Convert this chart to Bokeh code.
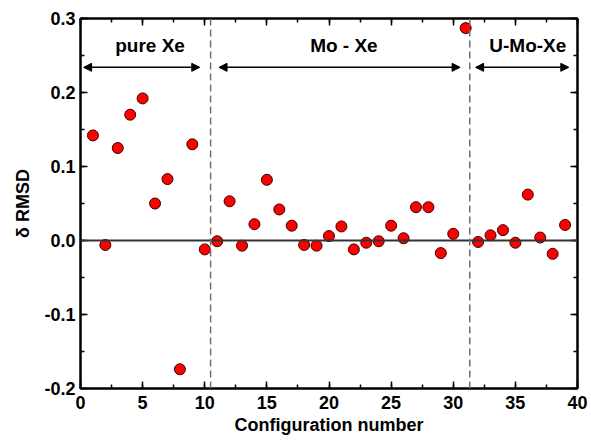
from bokeh.plotting import figure
from bokeh.models import (LinearAxis, Range1d, Span, Arrow, NormalHead, Label, FixedTicker,
                          PrintfTickFormatter, CustomJSTickFormatter)
from bokeh.embed import file_html
from bokeh.resources import INLINE

config = list(range(1, 40))
delta_rmsd = [0.142, -0.006, 0.125, 0.170, 0.192, 0.050, 0.083, -0.174, 0.130, -0.012,
              -0.001, 0.053, -0.007, 0.022, 0.082, 0.042, 0.020, -0.006, -0.007, 0.006,
              0.019, -0.012, -0.003, -0.001, 0.020, 0.003, 0.045, 0.045, -0.017, 0.009,
              0.287, -0.002, 0.007, 0.014, -0.003, 0.062, 0.004, -0.018, 0.021]
group_names = ["pure Xe", "Mo - Xe", "U-Mo-Xe"]
group_starts = [0.25, 11.15, 31.8]
group_ends = [9.6, 30.55, 39.3]
group_label_x = [5.6, 21.2, 36.0]
boundaries = [10.47, 31.33]

FONT = "Liberation Sans"

p = figure(width=591, height=440, output_backend="svg", toolbar_location=None,
           x_range=Range1d(0, 40), y_range=Range1d(-0.2, 0.3),
           min_border_left=80, min_border_right=14, min_border_top=18, min_border_bottom=52)
p.grid.visible = False
p.outline_line_color = "black"
p.outline_line_width = 2
p.background_fill_color = "white"
p.border_fill_color = "white"

def style_axis(ax, show_labels=True):
    ax.axis_line_width = 2
    ax.axis_line_color = "black"
    ax.major_tick_in = 7
    ax.major_tick_out = 0
    ax.minor_tick_in = 4
    ax.minor_tick_out = 0
    ax.major_tick_line_width = 1.5
    ax.minor_tick_line_width = 1.5
    ax.major_label_text_font = FONT
    ax.major_label_text_font_style = "bold"
    ax.major_label_text_font_size = "18px"
    ax.major_label_text_color = "black"
    ax.axis_label_text_font = FONT
    ax.axis_label_text_font_style = "bold"
    ax.axis_label_text_font_size = "18px"
    ax.axis_label_text_color = "black"
    if not show_labels:
        ax.formatter = CustomJSTickFormatter(code="return '';")
        ax.major_label_standoff = 0

xt = FixedTicker(ticks=[0, 5, 10, 15, 20, 25, 30, 35, 40],
                 minor_ticks=[i * 2.5 for i in range(17)])
yt = FixedTicker(ticks=[-0.2, -0.1, 0.0, 0.1, 0.2, 0.3],
                 minor_ticks=[-0.2 + i * 0.05 for i in range(11)])

p.xaxis.ticker = xt
p.yaxis.ticker = yt
style_axis(p.xaxis[0])
style_axis(p.yaxis[0])
p.yaxis.formatter = PrintfTickFormatter(format="%.1f")
p.xaxis.formatter = PrintfTickFormatter(format="%d")
p.xaxis.axis_label = "Configuration number"
p.yaxis.axis_label = "δ RMSD"
p.yaxis.major_label_standoff = 5
p.xaxis.major_label_standoff = 7
p.xaxis.axis_label_standoff = 3
p.yaxis.axis_label_standoff = 8

top = LinearAxis(ticker=xt)
style_axis(top, False)
p.add_layout(top, "above")
right = LinearAxis(ticker=yt)
style_axis(right, False)
p.add_layout(right, "right")

p.add_layout(Span(location=0, dimension="width", line_color="#333333", line_width=1.8))
for b in boundaries:
    p.add_layout(Span(location=b, dimension="height", line_color="#707070",
                      line_width=1.5, line_dash="7 4"))

for s, e in zip(group_starts, group_ends):
    p.add_layout(Arrow(x_start=s, y_start=0.234, x_end=e, y_end=0.234,
                       line_color="black", line_width=1.5,
                       start=NormalHead(size=8, fill_color="black", line_color="black"),
                       end=NormalHead(size=8, fill_color="black", line_color="black")))

for name, lx in zip(group_names, group_label_x):
    p.add_layout(Label(x=lx, y=0.263, text=name, text_align="center", text_baseline="middle",
                       text_font=FONT, text_font_style="bold", text_font_size="19px",
                       text_color="black"))

p.scatter(config, delta_rmsd, size=11, fill_color="#ff0000", line_color="#3a0000",
          line_width=1)

open("out.html", "w").write(file_html(p, INLINE))
